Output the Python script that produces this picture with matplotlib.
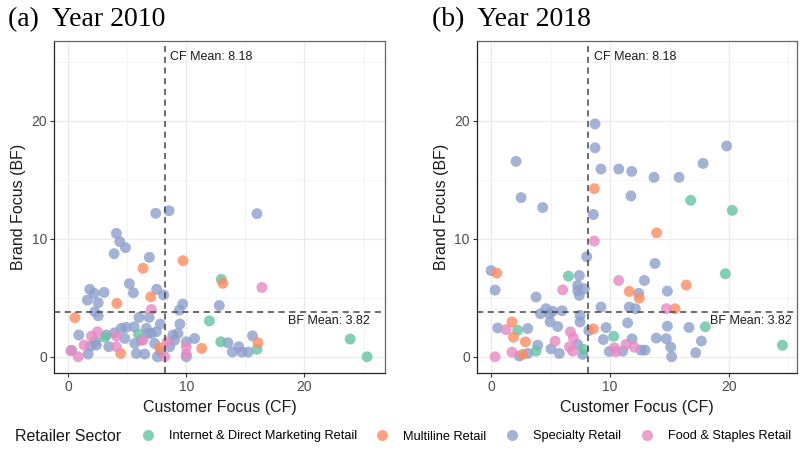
import matplotlib
matplotlib.use('Agg')
import matplotlib.pyplot as plt
from matplotlib.lines import Line2D
from matplotlib.ticker import MultipleLocator

# ---- data ----
sectors = ['Internet & Direct Marketing Retail', 'Multiline Retail',
           'Specialty Retail', 'Food & Staples Retail']
colors = ['#66C2A5', '#FC8D62', '#8DA0CB', '#E78AC3']
cf_mean = 8.18
bf_mean = 3.82

# Year 2010
cf10_internet = [3.1, 5.95, 11.95, 12.96, 12.92, 15.98, 23.87, 25.3]
bf10_internet = [1.66, 1.92, 3.04, 6.55, 1.27, 0.63, 1.5, 0.0]

cf10_multiline = [0.57, 4.12, 6.34, 9.72, 6.99, 4.45, 7.75, 11.3, 13.1, 16.06]
bf10_multiline = [3.31, 4.52, 7.49, 8.14, 5.08, 0.28, 0.76, 0.71, 6.22, 1.19]

cf10_specialty = [7.41, 8.54, 4.08, 4.37, 4.85, 3.89, 6.87, 5.18, 5.52, 1.83,
                  2.20, 3.04, 1.63, 2.54, 7.49, 8.08, 2.25, 2.54, 9.69, 9.41,
                  12.79, 6.0, 6.85, 7.8, 9.46, 4.9, 5.58, 4.5, 6.62, 7.04,
                  7.46, 3.94, 3.24, 0.90, 4.79, 2.39, 1.69, 3.44, 5.63, 6.76,
                  6.2, 7.32, 7.83, 5.77, 6.48, 7.55, 8.87, 9.3, 9.01, 10.0,
                  10.7, 10.0, 8.59, 13.52, 13.9, 14.44, 14.7, 15.24, 15.6, 15.98,
                  0.3, 1.9, 2.3]
bf10_specialty = [12.15, 12.37, 10.45, 9.75, 9.24, 8.73, 8.42, 6.19, 5.42, 5.71,
                  5.37, 5.45, 4.80, 4.58, 5.71, 5.23, 3.81, 3.47, 4.46, 3.95,
                  4.34, 3.33, 3.33, 2.77, 2.77, 2.49, 2.54, 2.40, 2.40, 1.98,
                  2.12, 2.03, 1.84, 1.84, 1.55, 0.99, 0.23, 0.85, 1.13, 1.98,
                  1.41, 1.13, 0.42, 0.28, 0.23, 0.0, 1.84, 1.98, 1.41, 1.27,
                  1.55, 0.0, 0.85, 1.19, 0.40, 0.85, 0.40, 0.40, 1.77, 12.12,
                  0.55, 0.9, 1.3]

cf10_food = [0.23, 0.85, 1.35, 1.97, 2.48, 4.08, 4.08, 6.34, 7.04, 8.39,
             8.17, 10.0, 10.0, 16.4]
bf10_food = [0.51, 0.0, 0.99, 1.75, 2.12, 1.75, 0.85, 1.41, 4.01, 1.27,
             0.0, 0.85, 0.23, 5.87]

# Year 2018
cf18_internet = [6.5, 2.24, 3.78, 7.79, 10.31, 16.78, 20.28, 19.69, 18.01, 24.49]
bf18_internet = [6.83, 2.25, 0.48, 0.62, 1.74, 13.25, 12.4, 7.03, 2.54, 0.98]

cf18_multiline = [8.68, 0.48, 1.76, 1.88, 2.89, 2.66, 8.6, 11.62, 12.46, 13.92,
                  16.41, 15.46]
bf18_multiline = [14.24, 7.08, 2.95, 1.66, 1.26, 0.2, 2.36, 5.53, 4.97, 10.5,
                  6.07, 4.07]

cf18_specialty = [8.74, 8.74, 9.24, 10.73, 11.82, 11.76, 2.10, 2.52, 4.34, 8.6,
                  8.04, 0.0, 0.34, 3.78, 7.42, 7.28, 7.84, 7.28, 7.42, 4.62,
                  5.18, 4.15, 4.9, 5.97, 7.48, 7.48, 9.24, 4.96, 5.6, 3.08,
                  0.56, 3.92, 5.04, 5.74, 3.08, 2.38, 7.28, 7.7, 8.21, 9.66,
                  9.44, 11.48, 9.94, 11.06, 11.62, 12.13, 12.41, 12.89, 11.85, 12.6,
                  12.95, 19.8, 17.82, 15.8, 13.7, 13.78, 14.82, 14.82, 16.64, 13.89,
                  14.73, 15.1, 15.18, 17.2, 17.68]
bf18_specialty = [19.72, 17.70, 15.9, 15.9, 15.7, 13.62, 16.55, 13.48, 12.64, 12.05,
                  8.48, 7.30, 5.65, 5.06, 6.88, 6.04, 5.76, 5.59, 5.2, 4.07,
                  3.85, 3.65, 3.65, 3.9, 3.51, 2.95, 4.21, 2.95, 2.56, 2.39,
                  2.44, 0.98, 0.67, 0.28, 0.28, 0.06, 1.04, 0.2, 2.22, 2.47,
                  1.46, 2.87, 0.45, 0.48, 4.21, 4.07, 5.37, 6.46, 1.52, 0.56,
                  0.56, 17.85, 16.38, 15.2, 15.2, 7.9, 5.56, 2.59, 2.48, 1.58,
                  1.53, 0.82, 0.0, 0.34, 1.33]

cf18_food = [8.68, 10.73, 6.02, 1.26, 6.67, 6.92, 5.38, 6.58, 6.86, 1.76,
             0.34, 10.36, 10.5, 11.34, 12.04, 14.73]
bf18_food = [9.8, 6.46, 5.67, 2.3, 2.11, 1.6, 1.32, 0.84, 0.48, 0.39,
             0.0, 0.76, 0.42, 1.04, 0.81, 4.07]

panels = [
    ('(a)  Year 2010', (-1.2, 26.8), 25.5,
     [(cf10_specialty, bf10_specialty, 2), (cf10_internet, bf10_internet, 0),
      (cf10_multiline, bf10_multiline, 1), (cf10_food, bf10_food, 3)]),
    ('(b)  Year 2018', (-1.2, 25.7), 25.3,
     [(cf18_specialty, bf18_specialty, 2), (cf18_internet, bf18_internet, 0),
      (cf18_multiline, bf18_multiline, 1), (cf18_food, bf18_food, 3)]),
]

plt.rcParams['font.family'] = ['Liberation Sans', 'DejaVu Sans']

fig = plt.figure(figsize=(8, 4.5), dpi=100)
boxes = [[0.0675, 0.171, 0.4135, 0.738], [0.596, 0.171, 0.4, 0.738]]
title_x = [8 / 800, 432 / 800]

for box, tx, (title, xlim, bf_x, series) in zip(boxes, title_x, panels):
    ax = fig.add_axes(box)
    ax.set_xlim(*xlim)
    ax.set_ylim(-1.38, 26.75)
    ax.xaxis.set_major_locator(MultipleLocator(10))
    ax.yaxis.set_major_locator(MultipleLocator(10))
    ax.xaxis.set_minor_locator(MultipleLocator(5))
    ax.yaxis.set_minor_locator(MultipleLocator(5))
    ax.grid(which='major', color='#EBEBEB', lw=1.0)
    ax.grid(which='minor', color='#F2F2F2', lw=0.6)
    ax.set_axisbelow(True)
    ax.tick_params(which='minor', length=0)
    ax.tick_params(which='major', length=3, width=0.8, color='#333333',
                   labelsize=10, labelcolor='#4D4D4D', pad=2)
    for side in ['top', 'right']:
        ax.spines[side].set_color('#666666')
        ax.spines[side].set_linewidth(0.9)
    for side in ['left', 'bottom']:
        ax.spines[side].set_color('#222222')
        ax.spines[side].set_linewidth(0.9)

    for xs, ys, k in series:
        ax.scatter(xs, ys, s=62, color=colors[k], alpha=0.8, edgecolors='none',
                   zorder=3)

    ax.axvline(cf_mean, color='#444444', lw=1.1, ls=(0, (4, 3)), zorder=4)
    ax.axhline(bf_mean, color='#444444', lw=1.1, ls=(0, (4, 3)), zorder=4)
    ax.text(cf_mean + 0.45, 25.4, 'CF Mean: %.2f' % cf_mean, fontsize=9,
            va='center', ha='left', color='#1A1A1A')
    ax.text(bf_x, 3.05, 'BF Mean: %.2f' % bf_mean, fontsize=9,
            va='center', ha='right', color='#1A1A1A')

    ax.set_xlabel('Customer Focus (CF)', fontsize=11.5, color='#1A1A1A', labelpad=4)
    ax.set_ylabel('Brand Focus (BF)', fontsize=11.5, color='#1A1A1A', labelpad=4)
    fig.text(tx, 1 - 20 / 450, title, fontsize=20, family='Liberation Serif',
             ha='left', va='center')

handles = [Line2D([], [], marker='o', ls='', markersize=8, color=c, alpha=0.8,
                  markeredgecolor='none') for c in colors]
fig.text(15 / 800, 0.03, 'Retailer Sector', fontsize=11.5, va='center',
         ha='left', color='#1A1A1A')
fig.legend(handles, sectors, loc='center left', bbox_to_anchor=(0.17, 0.03),
           ncol=4, frameon=False, fontsize=9.2, handletextpad=1.15,
           columnspacing=1.5, handlelength=1.0, borderaxespad=0)

fig.savefig('out.png', dpi=100)
